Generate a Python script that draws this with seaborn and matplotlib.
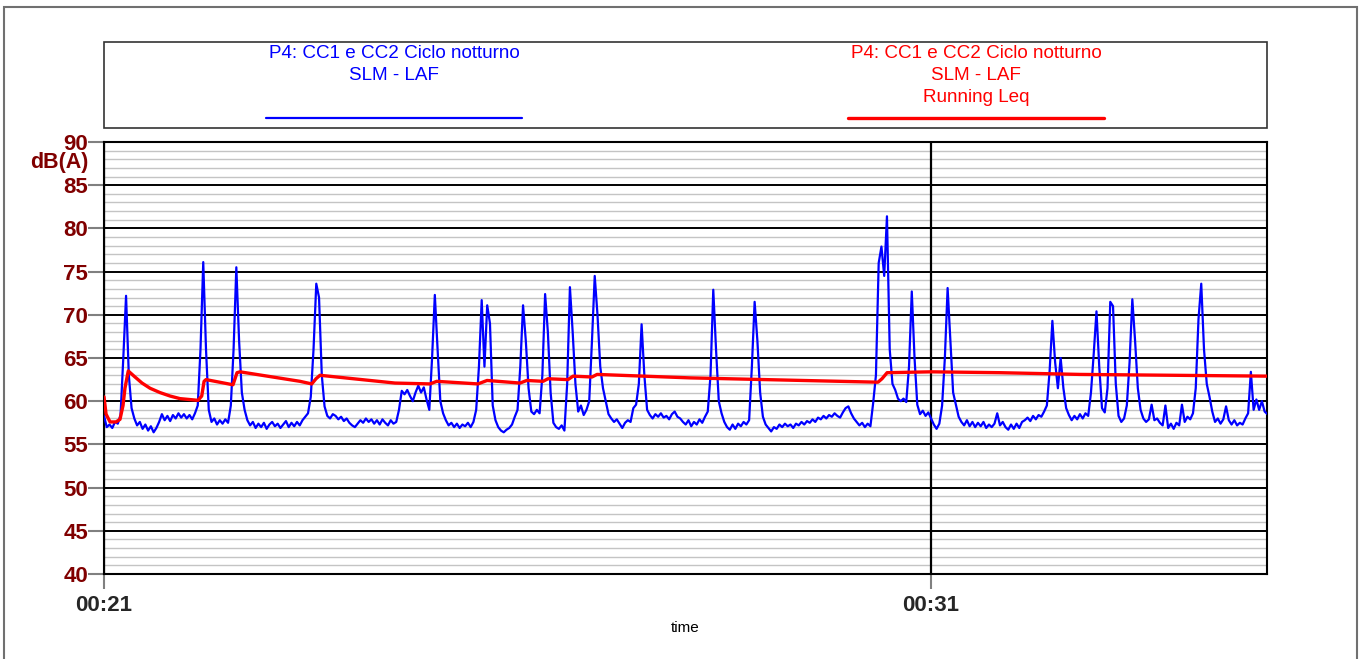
import numpy as np
import pandas as pd
import matplotlib
matplotlib.use("Agg")
import matplotlib.pyplot as plt
import seaborn as sns
from matplotlib.lines import Line2D
from matplotlib.patches import Rectangle

sns.set_style("white")
plt.rcParams['font.family'] = ['Liberation Sans', 'DejaVu Sans']

# ---------------- data ----------------
SAMPLE_S = 2.0  # LAF read every 2 s from 00:21:00
laf_db = [
    58.3, 57.0, 57.3, 56.9, 57.6, 57.4, 58.4, 65.0, 72.2, 63.0,   # 0
    59.2, 58.0, 57.2, 57.6, 56.8, 57.3, 56.6, 57.1, 56.4, 56.9,   # 10
    57.6, 58.5, 57.8, 58.3, 57.7, 58.4, 58.0, 58.6, 58.1, 58.5,   # 20
    58.0, 58.4, 57.9, 58.6, 59.5, 66.0, 76.1, 66.0, 59.0, 57.6,   # 30
    58.0, 57.3, 57.8, 57.4, 57.9, 57.5, 59.5, 66.0, 75.5, 67.0,   # 40
    61.0, 59.0, 57.8, 57.2, 57.6, 56.9, 57.4, 57.0, 57.5, 56.8,   # 50
    57.3, 57.6, 57.1, 57.4, 56.9, 57.3, 57.7, 57.0, 57.5, 57.1,   # 60
    57.6, 57.2, 57.8, 58.2, 58.6, 60.5, 66.0, 73.6, 72.0, 63.0,   # 70
    59.4, 58.3, 58.0, 58.5, 58.3, 57.9, 58.2, 57.7, 58.0, 57.5,   # 80
    57.2, 57.0, 57.4, 57.8, 57.5, 58.0, 57.6, 57.9, 57.4, 57.8,   # 90
    57.3, 57.9, 57.5, 57.2, 57.8, 57.4, 57.6, 59.0, 61.2, 60.8,   # 100
    61.3, 60.6, 60.0, 61.0, 61.8, 61.0, 61.6, 60.2, 59.0, 65.0,   # 110
    72.3, 66.0, 60.0, 58.6, 57.8, 57.2, 57.5, 57.0, 57.4, 56.9,   # 120
    57.3, 57.1, 57.5, 57.0, 57.6, 59.0, 64.0, 71.7, 64.0, 71.1,   # 130
    69.0, 59.5, 57.8, 57.0, 56.6, 56.4, 56.7, 56.9, 57.3, 58.2,   # 140
    59.0, 64.0, 71.1, 67.0, 61.5, 58.8, 58.5, 59.0, 58.6, 63.0,   # 150
    72.4, 68.0, 61.0, 57.5, 57.0, 56.8, 57.2, 56.6, 62.0, 73.2,   # 160
    68.0, 62.0, 58.8, 59.5, 58.4, 59.0, 60.0, 67.0, 74.5, 70.0,   # 170
    64.0, 61.5, 60.0, 58.5, 58.0, 57.6, 57.9, 57.4, 56.9, 57.5,   # 180
    57.8, 57.6, 59.2, 59.6, 62.0, 68.9, 63.0, 59.0, 58.4, 58.0,   # 190
    58.5, 58.2, 58.6, 58.1, 58.3, 57.9, 58.5, 58.8, 58.2, 58.0,   # 200
    57.6, 57.3, 57.8, 57.1, 57.6, 57.3, 57.9, 57.5, 58.2, 58.8,   # 210
    63.0, 72.9, 66.0, 60.0, 58.6, 57.6, 57.0, 56.7, 57.3, 56.8,   # 220
    57.4, 57.1, 57.6, 57.3, 57.8, 64.0, 71.5, 67.0, 61.0, 58.2,   # 230
    57.3, 56.9, 56.5, 57.0, 56.8, 57.3, 57.0, 57.4, 57.1, 57.3,   # 240
    56.9, 57.4, 57.2, 57.6, 57.3, 57.7, 57.5, 57.9, 57.6, 58.1,   # 250
    57.9, 58.3, 58.0, 58.4, 58.2, 58.6, 58.3, 58.1, 58.7, 59.2,   # 260
    59.4, 58.6, 58.0, 57.6, 57.2, 57.5, 57.0, 57.4, 57.1, 59.8,   # 270
    63.0, 76.0, 77.9, 74.5, 81.4, 66.0, 62.0, 61.3, 60.3, 60.0,   # 280
    60.3, 59.9, 64.0, 72.7, 65.0, 59.6, 58.5, 58.9, 58.3, 58.7,   # 290
    58.0, 57.3, 56.8, 57.4, 59.5, 65.0, 73.1, 67.0, 61.0, 59.6,   # 300
    58.2, 57.6, 57.2, 57.8, 57.1, 57.6, 57.0, 57.5, 57.1, 57.6,   # 310
    56.9, 57.3, 57.0, 57.4, 58.6, 57.2, 57.6, 57.0, 56.7, 57.3,   # 320
    56.8, 57.4, 56.9, 57.6, 57.8, 58.1, 57.7, 58.3, 57.9, 58.4,   # 330
    58.2, 58.8, 59.5, 63.5, 69.3, 64.5, 61.5, 65.0, 61.5, 59.2,   # 340
    58.4, 57.8, 58.3, 57.9, 58.5, 58.0, 58.6, 58.3, 61.0, 65.5,   # 350
    70.4, 64.0, 59.2, 58.7, 61.5, 71.5, 71.0, 62.0, 58.3, 57.6,   # 360
    58.0, 59.5, 64.5, 71.8, 67.0, 61.5, 59.0, 58.0, 57.6, 57.9,   # 370
    59.6, 57.8, 58.0, 57.5, 57.2, 59.5, 56.9, 57.4, 56.8, 57.5,   # 380
    57.2, 59.6, 57.6, 58.2, 57.9, 58.6, 61.5, 69.5, 73.6, 66.0,   # 390
    62.0, 60.5, 58.8, 57.6, 58.0, 57.4, 57.9, 59.4, 57.8, 57.3,   # 400
    57.8, 57.2, 57.5, 57.3, 58.0, 58.6, 63.4, 59.0, 60.2, 59.0,   # 410
    60.0, 58.8, 58.5,                                             # 420
]

leq_t_s = [0.0, 1.5, 4.4, 8.7, 11.6, 13.8, 15.2, 17.6, 22.5, 27.6, 33.4,
           40.6, 47.9, 55.1, 68.2, 70.9, 72.6, 74.0, 93.6, 96.5, 98.7,
           142.2, 150.7, 153.8, 156.7, 211.1, 236.5, 241.4, 271.3, 277.9,
           301.8, 306.7, 318.5, 322.1, 336.6, 340.3, 354.0, 357.7, 425.1,
           561.5, 564.4, 568.1, 600.0, 650.0, 708.0, 843.7]
leq_db = [60.5, 58.5, 57.6, 57.6, 57.9, 59.5, 61.5, 63.5, 62.8, 62.1, 61.5,
          61.0, 60.6, 60.3, 60.1, 60.6, 62.3, 62.5, 61.9, 63.3, 63.4,
          62.3, 62.0, 62.6, 63.0, 62.1, 62.0, 62.3, 62.0, 62.4,
          62.1, 62.4, 62.3, 62.6, 62.5, 62.9, 62.8, 63.1, 62.7,
          62.2, 62.6, 63.3, 63.4, 63.3, 63.1, 62.9]

y_major = [40, 45, 50, 55, 60, 65, 70, 75, 80, 85, 90]
y_minor = [41, 42, 43, 44, 46, 47, 48, 49, 51, 52, 53, 54, 56, 57, 58, 59,
           61, 62, 63, 64, 66, 67, 68, 69, 71, 72, 73, 74, 76, 77, 78, 79,
           81, 82, 83, 84, 86, 87, 88, 89]
x_ticks_s = [0, 600]
x_tick_labels = ["00:21", "00:31"]
x_end_s = 843.7
y_unit = "dB(A)"
x_title = "time"
laf_label = ["P4: CC1 e CC2 Ciclo notturno", "SLM - LAF"]
leq_label = ["P4: CC1 e CC2 Ciclo notturno", "SLM - LAF", "Running Leq"]

BLUE = "#0000ff"
RED = "#ff0000"
DARKRED = "#800000"

# ---------------- figure ----------------
W, H = 1359, 659
fig = plt.figure(figsize=(W / 100, H / 100), dpi=100)
fx = lambda px: px / W
fy = lambda py: 1 - py / H

ax = fig.add_axes([fx(104), fy(574), (1267 - 104) / W, (574 - 142) / H])

df_laf = pd.DataFrame({"t": np.arange(len(laf_db)) * SAMPLE_S, "db": laf_db})
df_leq = pd.DataFrame({"t": leq_t_s, "db": leq_db})
sns.lineplot(data=df_laf, x="t", y="db", ax=ax, color=BLUE, lw=1.6,
             estimator=None, zorder=3)
sns.lineplot(data=df_leq, x="t", y="db", ax=ax, color=RED, lw=2.4,
             estimator=None, zorder=4)

ax.set_xlim(0, x_end_s)
ax.set_ylim(40, 90)
ax.set_yticks(y_major)
ax.set_yticks(y_minor, minor=True)
ax.set_xticks(x_ticks_s)
ax.set_xticklabels(x_tick_labels)
ax.set_xlabel("")
ax.set_ylabel("")

ax.grid(which="minor", axis="y", color="#c4c4c4", lw=1.0)
ax.grid(which="major", axis="y", color="black", lw=1.4)
ax.grid(which="major", axis="x", color="black", lw=1.6)
ax.xaxis.set_zorder(1.7)
ax.tick_params(axis="y", which="major", length=11.5, width=1.5, color="#808080",
               labelsize=16, labelcolor=DARKRED, pad=0, left=True)
ax.tick_params(axis="y", which="minor", length=0)
ax.tick_params(axis="x", which="major", length=11, width=1.5, color="#808080",
               labelsize=16, pad=4, bottom=True)
for lab in ax.get_yticklabels() + ax.get_xticklabels():
    lab.set_fontweight("bold")
for s in ax.spines.values():
    s.set_color("black")
    s.set_linewidth(1.5)

fig.text(fx(88), fy(163), y_unit, ha="right", va="center", fontsize=15.5,
         fontweight="bold", color=DARKRED)
fig.text(fx(685.5), fy(628), x_title, ha="center", va="center", fontsize=11,
         color="black")

# legend box
fig.add_artist(Rectangle((fx(104), fy(128)), (1267 - 104) / W, 86 / H,
                         transform=fig.transFigure, fill=False,
                         ec="#333333", lw=1.2))
line_y = [54, 76, 98]
for i, s in enumerate(laf_label):
    fig.text(fx(394), fy(line_y[i]), s, ha="center", va="center",
             fontsize=13.6, color=BLUE)
for i, s in enumerate(leq_label):
    fig.text(fx(976), fy(line_y[i]), s, ha="center", va="center",
             fontsize=13.6, color=RED)
fig.add_artist(Line2D([fx(266), fx(522)], [fy(118), fy(118)], color=BLUE,
                      lw=1.6, transform=fig.transFigure))
fig.add_artist(Line2D([fx(848), fx(1104)], [fy(118), fy(118)], color=RED,
                      lw=2.4, transform=fig.transFigure))

# outer frame
fig.add_artist(Rectangle((fx(3.5), -0.02), (1356.5 - 3.5) / W, fy(7) + 0.02,
                         transform=fig.transFigure, fill=False,
                         ec="#707070", lw=1.5))

fig.savefig("out.png", dpi=100)
